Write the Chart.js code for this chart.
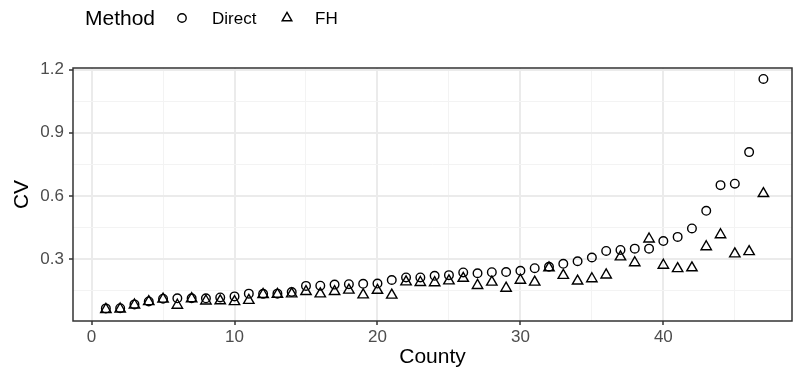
<!DOCTYPE html>
<html>
<head>
<meta charset="utf-8">
<script src="https://cdn.jsdelivr.net/npm/chart.js@4/dist/chart.umd.min.js"></script>
<style>
html,body{margin:0;padding:0;background:#fff;}
#wrap{width:793px;height:376px;position:relative;}
</style>
</head>
<body>
<div id="wrap"><canvas id="c" width="793" height="376"></canvas></div>
<script>
const counties = Array.from({length:47},(_,i)=>i+1);
const directCV = [0.065,0.066,0.084,0.098,0.111,0.113,0.113,0.113,0.117,0.122,0.135,0.134,0.135,0.143,0.172,0.173,0.178,0.180,0.182,0.183,0.200,0.212,0.212,0.220,0.223,0.236,0.232,0.237,0.238,0.244,0.256,0.263,0.277,0.289,0.307,0.338,0.343,0.349,0.349,0.385,0.405,0.445,0.529,0.651,0.658,0.808,1.156];
const fhCV = [0.060,0.062,0.081,0.097,0.109,0.080,0.111,0.100,0.101,0.097,0.103,0.131,0.132,0.134,0.145,0.134,0.145,0.152,0.129,0.151,0.128,0.191,0.188,0.187,0.196,0.208,0.174,0.190,0.161,0.199,0.190,0.258,0.222,0.195,0.206,0.224,0.310,0.282,0.395,0.270,0.254,0.258,0.358,0.415,0.324,0.335,0.611];
const xMajorTicks = [0,10,20,30,40];
const xMinorTicks = [5,15,25,35,45];
const yMajorTicks = [0.3,0.6,0.9,1.2];
const yMinorTicks = [0.15,0.45,0.75,1.05];
const seriesNames = ["Direct","FH"];
const legendTitle = "Method";

const FONT = "'Liberation Sans', Arial, Helvetica, sans-serif";
const isMajor = (v, arr) => arr.some(t => Math.abs(t - v) < 1e-9);

const panelBorder = {
  id: 'panelBorder',
  afterDatasetsDraw(chart) {
    const {ctx, chartArea: a} = chart;
    ctx.save();
    ctx.strokeStyle = '#333333';
    ctx.lineWidth = 1.5;
    ctx.strokeRect(a.left, a.top, a.right - a.left, a.bottom - a.top);
    ctx.restore();
  }
};

const ggLegend = {
  id: 'ggLegend',
  afterDraw(chart) {
    const ctx = chart.ctx;
    ctx.save();
    ctx.fillStyle = '#000';
    ctx.textBaseline = 'middle';
    ctx.textAlign = 'left';
    ctx.font = '21px ' + FONT;
    ctx.fillText(legendTitle, 85, 19);
    ctx.font = '17px ' + FONT;
    const items = [
      {style:'circle', r:4.2, x:182, tx:212, label:seriesNames[0]},
      {style:'triangle', r:5.6, x:287, tx:315, label:seriesNames[1]}
    ];
    items.forEach(it => {
      ctx.strokeStyle = '#000';
      ctx.lineWidth = 1.4;
      ctx.fillStyle = 'rgba(0,0,0,0)';
      Chart.helpers.drawPoint(ctx, {pointStyle: it.style, radius: it.r, rotation: 0, borderWidth: 1.4}, it.x, 18);
      ctx.fillStyle = '#000';
      ctx.fillText(it.label, it.tx, 19);
    });
    ctx.restore();
  }
};

new Chart(document.getElementById('c'), {
  type: 'scatter',
  data: {
    datasets: [
      {
        label: seriesNames[0],
        data: counties.map((c,i)=>({x:c, y:directCV[i]})),
        pointStyle: 'circle',
        pointRadius: 4.3,
        pointBorderWidth: 1.4,
        pointBorderColor: '#000',
        pointBackgroundColor: 'rgba(0,0,0,0)'
      },
      {
        label: seriesNames[1],
        data: counties.map((c,i)=>({x:c, y:fhCV[i]})),
        pointStyle: 'triangle',
        pointRadius: 6,
        pointBorderWidth: 1.4,
        pointBorderColor: '#000',
        pointBackgroundColor: 'rgba(0,0,0,0)'
      }
    ]
  },
  options: {
    responsive: false,
    animation: false,
    events: [],
    layout: {autoPadding: false, padding: {top: 68, right: 1, left: 0, bottom: 0}},
    plugins: {legend: {display: false}, tooltip: {enabled: false}},
    scales: {
      x: {
        type: 'linear',
        min: -1.3,
        max: 49.0,
        afterBuildTicks: s => { s.ticks = xMajorTicks.concat(xMinorTicks).sort((a,b)=>a-b).map(v=>({value:v})); },
        afterFit: s => { s.height = 55; },
        border: {display: false},
        grid: {
          color: c => isMajor(c.tick.value, xMajorTicks) ? '#EBEBEB' : '#F3F3F3',
          lineWidth: c => isMajor(c.tick.value, xMajorTicks) ? 2 : 1,
          tickColor: c => isMajor(c.tick.value, xMajorTicks) ? '#333333' : 'rgba(0,0,0,0)',
          tickLength: 4,
          tickWidth: 1.5
        },
        ticks: {
          autoSkip: false,
          maxRotation: 0,
          padding: 2,
          color: '#4D4D4D',
          font: {family: FONT, size: 17},
          callback: v => isMajor(v, xMajorTicks) ? String(v) : ''
        },
        title: {
          display: true,
          text: 'County',
          color: '#000',
          font: {family: FONT, size: 21},
          padding: {top: 0, bottom: 6}
        }
      },
      y: {
        type: 'linear',
        min: 0.005,
        max: 1.208,
        afterBuildTicks: s => { s.ticks = yMajorTicks.concat(yMinorTicks).sort((a,b)=>a-b).map(v=>({value:v})); },
        afterFit: s => { s.width = 73; },
        border: {display: false},
        grid: {
          color: c => isMajor(c.tick.value, yMajorTicks) ? '#EBEBEB' : '#F3F3F3',
          lineWidth: c => isMajor(c.tick.value, yMajorTicks) ? 2 : 1,
          tickColor: c => isMajor(c.tick.value, yMajorTicks) ? '#333333' : 'rgba(0,0,0,0)',
          tickLength: 4,
          tickWidth: 1.5
        },
        ticks: {
          autoSkip: false,
          padding: 5,
          color: '#4D4D4D',
          font: {family: FONT, size: 17},
          callback: v => isMajor(v, yMajorTicks) ? v.toFixed(1) : ''
        },
        title: {
          display: true,
          text: 'CV',
          color: '#000',
          font: {family: FONT, size: 21},
          padding: {top: 10, bottom: 0}
        }
      }
    }
  },
  plugins: [panelBorder, ggLegend]
});
</script>
</body>
</html>
